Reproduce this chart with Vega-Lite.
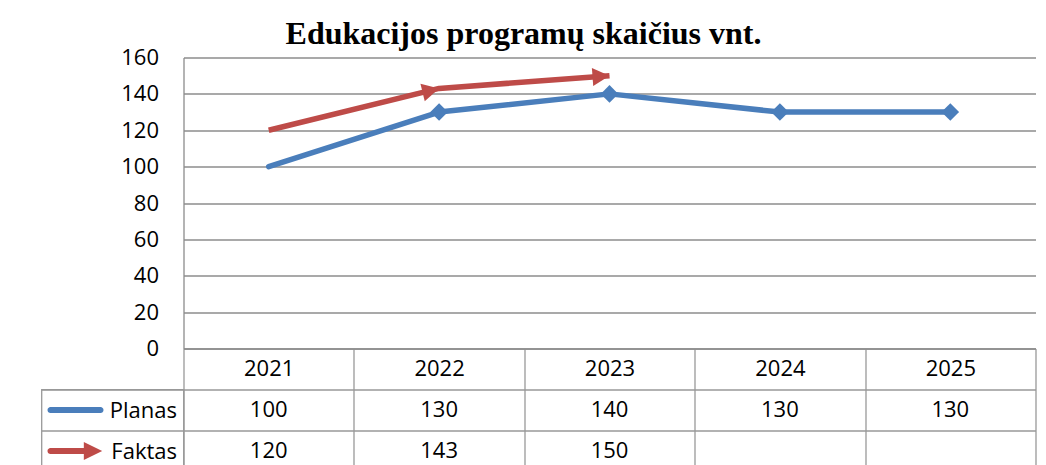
{
  "$schema": "https://vega.github.io/schema/vega-lite/v6.json",
  "background": "white",
  "padding": {"left": 40.5, "top": 17.5, "right": 0, "bottom": 0},
  "title": {
    "text": "Edukacijos programų skaičius vnt.",
    "font": "Liberation Serif",
    "fontSize": 32,
    "fontWeight": "bold",
    "color": "black",
    "anchor": "middle",
    "dx": -15,
    "offset": -4
  },
  "datasets": {
    "d": [
      {"year": "2021", "series": "Planas", "value": 100},
      {"year": "2022", "series": "Planas", "value": 130},
      {"year": "2023", "series": "Planas", "value": 140},
      {"year": "2024", "series": "Planas", "value": 130},
      {"year": "2025", "series": "Planas", "value": 130},
      {"year": "2021", "series": "Faktas", "value": 120},
      {"year": "2022", "series": "Faktas", "value": 143},
      {"year": "2023", "series": "Faktas", "value": 150}
    ],
    "s": [
      {"series": "Planas"},
      {"series": "Faktas"}
    ]
  },
  "columns": 2,
  "spacing": {"row": 41, "column": 0},
  "bounds": "flush",
  "concat": [
    {
      "width": 142,
      "height": 291,
      "view": {"stroke": null},
      "data": {"values": []},
      "mark": "point"
    },
    {
      "width": 852,
      "height": 291,
      "view": {"stroke": null},
      "data": {"name": "d"},
      "encoding": {
        "x": {
          "field": "year",
          "type": "nominal",
          "bandPosition": 0.5,
          "scale": {"type": "band", "domain": ["2021", "2022", "2023", "2024", "2025"], "paddingInner": 0, "paddingOuter": 0},
          "axis": {
            "orient": "bottom",
            "title": null,
            "grid": false,
            "domain": true,
            "domainColor": "#8c8c8c",
            "domainWidth": 1.3,
            "ticks": true,
            "tickBand": "extent",
            "tickSize": 41,
            "tickColor": "#999999",
            "tickWidth": 1.3,
            "labelFont": "Open Sans",
            "labelFontSize": 22,
            "labelColor": "black",
            "labelAngle": 0,
            "labelBaseline": "middle",
            "labelPadding": -21
          }
        },
        "y": {
          "field": "value",
          "type": "quantitative",
          "scale": {"domain": [0, 160], "nice": false},
          "axis": {
            "title": null,
            "values": [0, 20, 40, 60, 80, 100, 120, 140, 160],
            "domain": true,
            "domainColor": "#8c8c8c",
            "domainWidth": 1.3,
            "ticks": false,
            "grid": true,
            "gridColor": "#8c8c8c",
            "gridWidth": 1.3,
            "labelFont": "Open Sans",
            "labelFontSize": 22,
            "labelColor": "black",
            "labelPadding": 25
          }
        }
      },
      "layer": [
        {
          "transform": [{"filter": "datum.series === 'Planas'"}],
          "mark": {"type": "line", "color": "#4A7EBB", "strokeWidth": 5.5, "strokeCap": "round", "strokeJoin": "round"}
        },
        {
          "transform": [{"filter": "datum.series === 'Planas' && datum.year !== '2021'"}],
          "mark": {"type": "point", "shape": "diamond", "filled": true, "color": "#4A7EBB", "size": 310, "opacity": 1}
        },
        {
          "transform": [{"filter": "datum.series === 'Faktas'"}],
          "mark": {"type": "line", "color": "#BE4B48", "strokeWidth": 5.5, "strokeCap": "butt", "strokeJoin": "round"}
        },
        {
          "transform": [{"filter": "datum.series === 'Faktas' && datum.year === '2022'"}],
          "mark": {"type": "point", "shape": "M0,0L-2,-1.06L-2,1.06Z", "filled": true, "color": "#BE4B48", "size": 289, "angle": 346.2, "opacity": 1}
        },
        {
          "transform": [{"filter": "datum.series === 'Faktas' && datum.year === '2023'"}],
          "mark": {"type": "point", "shape": "M0,0L-2,-1.06L-2,1.06Z", "filled": true, "color": "#BE4B48", "size": 289, "angle": 355.7, "opacity": 1}
        }
      ]
    },
    {
      "width": 142,
      "height": 82,
      "view": {"stroke": "#999999", "strokeWidth": 1.3},
      "data": {"name": "s"},
      "mark": {"type": "point", "filled": true, "size": 4096, "opacity": 1, "strokeWidth": 0},
      "encoding": {
        "y": {
          "field": "series",
          "type": "nominal",
          "bandPosition": 0.5,
          "scale": {"type": "band", "domain": ["Planas", "Faktas"], "paddingInner": 0, "paddingOuter": 0},
          "axis": {
            "orient": "right",
            "title": null,
            "domain": false,
            "ticks": false,
            "grid": true,
            "tickBand": "extent",
            "gridColor": "#999999",
            "gridWidth": 1.3,
            "labelFont": "Open Sans",
            "labelFontSize": 22,
            "labelColor": "black",
            "labelAlign": "right",
            "labelBaseline": "middle",
            "labelPadding": -7
          }
        },
        "shape": {
          "field": "series",
          "type": "nominal",
          "legend": null,
          "scale": {
            "domain": ["Planas", "Faktas"],
            "range": [
              "M-1.9375,-0.094L-0.375,-0.094A0.094,0.094 0 0 1 -0.375,0.094L-1.9375,0.094A0.094,0.094 0 0 1 -1.9375,-0.094Z",
              "M-1.9375,-0.094L-0.896,-0.094L-0.896,-0.281L-0.322,0L-0.896,0.281L-0.896,0.094L-1.9375,0.094A0.094,0.094 0 0 1 -1.9375,-0.094Z"
            ]
          }
        },
        "color": {
          "field": "series",
          "type": "nominal",
          "legend": null,
          "scale": {"domain": ["Planas", "Faktas"], "range": ["#4A7EBB", "#BE4B48"]}
        }
      }
    },
    {
      "width": 852,
      "height": 82,
      "view": {"stroke": null},
      "data": {"name": "d"},
      "mark": {"type": "text", "font": "Open Sans", "fontSize": 22, "color": "black"},
      "encoding": {
        "x": {
          "field": "year",
          "type": "nominal",
          "bandPosition": 0.5,
          "scale": {"type": "band", "domain": ["2021", "2022", "2023", "2024", "2025"], "paddingInner": 0, "paddingOuter": 0},
          "axis": {"title": null, "labels": false, "ticks": false, "domain": false, "grid": true, "tickBand": "extent", "gridColor": "#999999", "gridWidth": 1.3}
        },
        "y": {
          "field": "series",
          "type": "nominal",
          "bandPosition": 0.5,
          "scale": {"type": "band", "domain": ["Planas", "Faktas"], "paddingInner": 0, "paddingOuter": 0},
          "axis": {"title": null, "labels": false, "ticks": false, "domain": false, "grid": true, "tickBand": "extent", "gridColor": "#999999", "gridWidth": 1.3}
        },
        "text": {"field": "value", "type": "quantitative"}
      }
    }
  ],
  "config": {
    "view": {"stroke": null}
  }
}
